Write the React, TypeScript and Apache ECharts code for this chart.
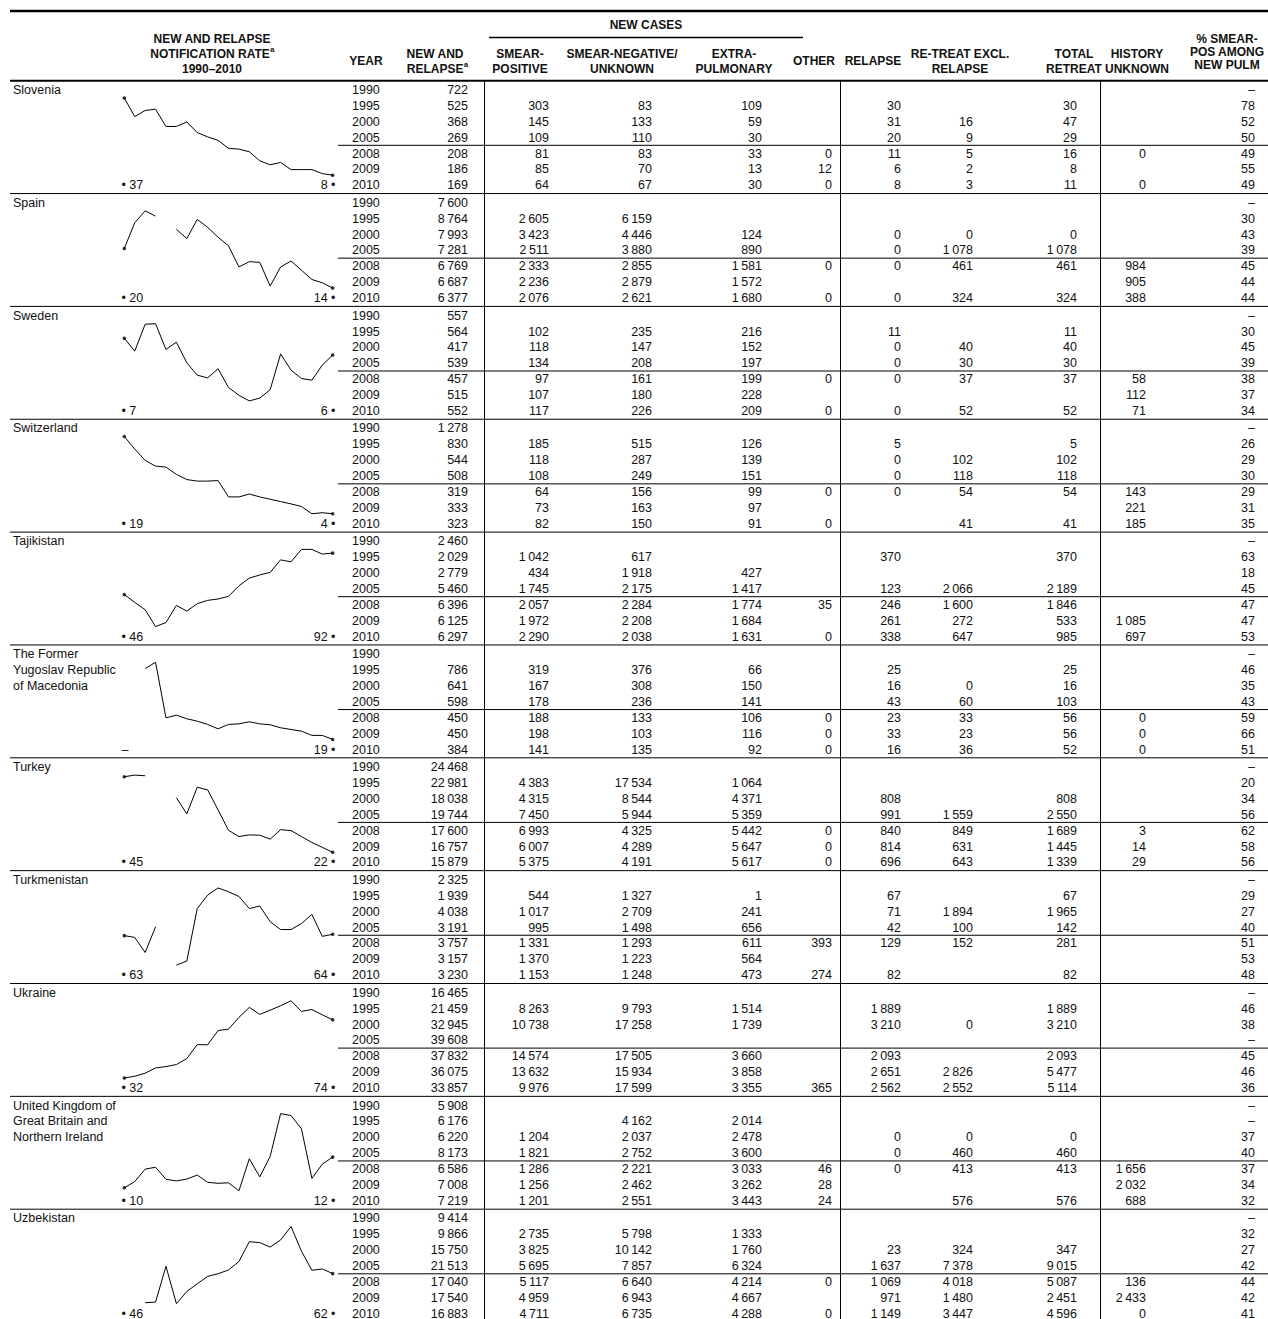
import React, { useEffect, useRef } from "react";
import * as echarts from "echarts";

// ---------------- DATA ----------------
const countryNames: string[][] = [
  ["Slovenia"],
  ["Spain"],
  ["Sweden"],
  ["Switzerland"],
  ["Tajikistan"],
  ["The Former", "Yugoslav Republic", "of Macedonia"],
  ["Turkey"],
  ["Turkmenistan"],
  ["Ukraine"],
  ["United Kingdom of", "Great Britain and", "Northern Ireland"],
  ["Uzbekistan"],
];

const rowYears = ["1990", "1995", "2000", "2005", "2008", "2009", "2010"];

const sparkYears = [
  "1990", "1991", "1992", "1993", "1994", "1995", "1996", "1997", "1998", "1999", "2000",
  "2001", "2002", "2003", "2004", "2005", "2006", "2007", "2008", "2009", "2010",
];

// notification rate per 100 000, 1990–2010 (null = not reported)
const sloveniaRate = [37, 30, 32.3, 32.8, 26.3, 26.3, 28, 24, 22.4, 21.1, 18.1, 17.8, 16.8, 13.4, 11.9, 12.8, 10.1, 10.1, 10.1, 8.6, 8];
const spainRate = [20, 23.9, 25.7, 24.9, null, 22.9, 21.5, 24.4, 23.2, 21.7, 20.4, 17.2, 18.0, 17.9, 14.3, 17.2, 18.1, 16.7, 15.3, 14.8, 14];
const swedenRate = [6.5, 6.04, 7.0, 7.02, 6.1, 6.36, 5.62, 5.18, 5.08, 5.41, 4.74, 4.46, 4.26, 4.36, 4.66, 5.94, 5.36, 5.06, 5.0, 5.54, 5.9];
const switzerlandRate = [19, 16.6, 14.4, 13.3, 13.1, 11.7, 10.7, 10.4, 10.4, 10.5, 7.35, 7.35, 7.9, 7.35, 6.9, 6.45, 6.0, 5.5, 4.1, 4.3, 4.1];
const tajikistanRate = [46, 37.4, 29.2, 10.5, 15.0, 34.0, 27.7, 35.9, 39.6, 41.1, 44.1, 55.7, 64.3, 67.7, 70.7, 84.5, 82.3, 96.1, 96.1, 90.9, 92];
const macedoniaRate = [null, null, 80.3, 85.8, 37.7, 40.0, 36.9, 34.8, 32.0, 28.2, 32.0, 32.5, 34.3, 32.5, 31.7, 29.1, 27.6, 26.2, 22.5, 22.5, 19];
const turkeyRate = [45, 45.5, 45.3, null, null, 38.6, 33.7, 41.8, 41.0, 34.9, 28.7, 26.8, 27.3, 27.2, 26.0, 28.9, 28.6, 26.8, 25.0, 23.5, 22];
const turkmenistanRate = [63.2, 62.2, 53.3, 68.4, null, 45.9, 48.3, 79.1, 87.0, 91.2, 89.0, 86.2, 79.1, 80.6, 71.4, 66.8, 66.8, 70.3, 75.7, 62.8, 64.0];
const ukraineRate = [31.7, 33.0, 35.2, 39.0, 40.0, 41.5, 45.8, 56.0, 55.8, 66.2, 67.2, 75.7, 83.0, 77.9, 81.0, 84.2, 87.8, 80.1, 81.5, 77.6, 74];
const ukRate = [10.3, 10.56, 11.09, 11.17, 10.66, 10.59, 10.67, 10.84, 10.53, 10.49, 10.51, 10.17, 11.53, 10.76, 11.63, 13.44, 13.36, 12.8, 10.7, 11.3, 11.6];
const uzbekistanRate = [null, null, 43.9, 44.3, 66.0, 43.3, 50.7, 55.4, 59.9, 61.5, 63.8, 68.9, 81.0, 80.4, 77.7, 82.0, 90.2, 75.2, 63.6, 64.4, 61.6];

const firstLabels = ["37", "20", "7", "19", "46", "–", "45", "63", "32", "10", "46"];
const lastLabels = ["8", "14", "6", "4", "92", "19", "22", "64", "74", "12", "62"];

// columns: new&relapse, smear+, smear-/unk, extrapulm, other, relapse, re-treat excl. relapse, total retreat, history unknown, % smear+
type Cell = number | string | null;
const sloveniaTable: Cell[][] = [
  [722, null, null, null, null, null, null, null, null, "–"],
  [525, 303, 83, 109, null, 30, null, 30, null, 78],
  [368, 145, 133, 59, null, 31, 16, 47, null, 52],
  [269, 109, 110, 30, null, 20, 9, 29, null, 50],
  [208, 81, 83, 33, 0, 11, 5, 16, 0, 49],
  [186, 85, 70, 13, 12, 6, 2, 8, null, 55],
  [169, 64, 67, 30, 0, 8, 3, 11, 0, 49],
];
const spainTable: Cell[][] = [
  [7600, null, null, null, null, null, null, null, null, "–"],
  [8764, 2605, 6159, null, null, null, null, null, null, 30],
  [7993, 3423, 4446, 124, null, 0, 0, 0, null, 43],
  [7281, 2511, 3880, 890, null, 0, 1078, 1078, null, 39],
  [6769, 2333, 2855, 1581, 0, 0, 461, 461, 984, 45],
  [6687, 2236, 2879, 1572, null, null, null, null, 905, 44],
  [6377, 2076, 2621, 1680, 0, 0, 324, 324, 388, 44],
];
const swedenTable: Cell[][] = [
  [557, null, null, null, null, null, null, null, null, "–"],
  [564, 102, 235, 216, null, 11, null, 11, null, 30],
  [417, 118, 147, 152, null, 0, 40, 40, null, 45],
  [539, 134, 208, 197, null, 0, 30, 30, null, 39],
  [457, 97, 161, 199, 0, 0, 37, 37, 58, 38],
  [515, 107, 180, 228, null, null, null, null, 112, 37],
  [552, 117, 226, 209, 0, 0, 52, 52, 71, 34],
];
const switzerlandTable: Cell[][] = [
  [1278, null, null, null, null, null, null, null, null, "–"],
  [830, 185, 515, 126, null, 5, null, 5, null, 26],
  [544, 118, 287, 139, null, 0, 102, 102, null, 29],
  [508, 108, 249, 151, null, 0, 118, 118, null, 30],
  [319, 64, 156, 99, 0, 0, 54, 54, 143, 29],
  [333, 73, 163, 97, null, null, null, null, 221, 31],
  [323, 82, 150, 91, 0, null, 41, 41, 185, 35],
];
const tajikistanTable: Cell[][] = [
  [2460, null, null, null, null, null, null, null, null, "–"],
  [2029, 1042, 617, null, null, 370, null, 370, null, 63],
  [2779, 434, 1918, 427, null, null, null, null, null, 18],
  [5460, 1745, 2175, 1417, null, 123, 2066, 2189, null, 45],
  [6396, 2057, 2284, 1774, 35, 246, 1600, 1846, null, 47],
  [6125, 1972, 2208, 1684, null, 261, 272, 533, 1085, 47],
  [6297, 2290, 2038, 1631, 0, 338, 647, 985, 697, 53],
];
const macedoniaTable: Cell[][] = [
  [null, null, null, null, null, null, null, null, null, "–"],
  [786, 319, 376, 66, null, 25, null, 25, null, 46],
  [641, 167, 308, 150, null, 16, 0, 16, null, 35],
  [598, 178, 236, 141, null, 43, 60, 103, null, 43],
  [450, 188, 133, 106, 0, 23, 33, 56, 0, 59],
  [450, 198, 103, 116, 0, 33, 23, 56, 0, 66],
  [384, 141, 135, 92, 0, 16, 36, 52, 0, 51],
];
const turkeyTable: Cell[][] = [
  [24468, null, null, null, null, null, null, null, null, "–"],
  [22981, 4383, 17534, 1064, null, null, null, null, null, 20],
  [18038, 4315, 8544, 4371, null, 808, null, 808, null, 34],
  [19744, 7450, 5944, 5359, null, 991, 1559, 2550, null, 56],
  [17600, 6993, 4325, 5442, 0, 840, 849, 1689, 3, 62],
  [16757, 6007, 4289, 5647, 0, 814, 631, 1445, 14, 58],
  [15879, 5375, 4191, 5617, 0, 696, 643, 1339, 29, 56],
];
const turkmenistanTable: Cell[][] = [
  [2325, null, null, null, null, null, null, null, null, "–"],
  [1939, 544, 1327, 1, null, 67, null, 67, null, 29],
  [4038, 1017, 2709, 241, null, 71, 1894, 1965, null, 27],
  [3191, 995, 1498, 656, null, 42, 100, 142, null, 40],
  [3757, 1331, 1293, 611, 393, 129, 152, 281, null, 51],
  [3157, 1370, 1223, 564, null, null, null, null, null, 53],
  [3230, 1153, 1248, 473, 274, 82, null, 82, null, 48],
];
const ukraineTable: Cell[][] = [
  [16465, null, null, null, null, null, null, null, null, "–"],
  [21459, 8263, 9793, 1514, null, 1889, null, 1889, null, 46],
  [32945, 10738, 17258, 1739, null, 3210, 0, 3210, null, 38],
  [39608, null, null, null, null, null, null, null, null, "–"],
  [37832, 14574, 17505, 3660, null, 2093, null, 2093, null, 45],
  [36075, 13632, 15934, 3858, null, 2651, 2826, 5477, null, 46],
  [33857, 9976, 17599, 3355, 365, 2562, 2552, 5114, null, 36],
];
const ukTable: Cell[][] = [
  [5908, null, null, null, null, null, null, null, null, "–"],
  [6176, null, 4162, 2014, null, null, null, null, null, "–"],
  [6220, 1204, 2037, 2478, null, 0, 0, 0, null, 37],
  [8173, 1821, 2752, 3600, null, 0, 460, 460, null, 40],
  [6586, 1286, 2221, 3033, 46, 0, 413, 413, 1656, 37],
  [7008, 1256, 2462, 3262, 28, null, null, null, 2032, 34],
  [7219, 1201, 2551, 3443, 24, null, 576, 576, 688, 32],
];
const uzbekistanTable: Cell[][] = [
  [9414, null, null, null, null, null, null, null, null, "–"],
  [9866, 2735, 5798, 1333, null, null, null, null, null, 32],
  [15750, 3825, 10142, 1760, null, 23, 324, 347, null, 27],
  [21513, 5695, 7857, 6324, null, 1637, 7378, 9015, null, 42],
  [17040, 5117, 6640, 4214, 0, 1069, 4018, 5087, 136, 44],
  [17540, 4959, 6943, 4667, null, 971, 1480, 2451, 2433, 42],
  [16883, 4711, 6735, 4288, 0, 1149, 3447, 4596, 0, 41],
];

const rates = [sloveniaRate, spainRate, swedenRate, switzerlandRate, tajikistanRate, macedoniaRate, turkeyRate, turkmenistanRate, ukraineRate, ukRate, uzbekistanRate];
const tables = [sloveniaTable, spainTable, swedenTable, switzerlandTable, tajikistanTable, macedoniaTable, turkeyTable, turkmenistanTable, ukraineTable, ukTable, uzbekistanTable];

// ---------------- LAYOUT ----------------
const W = 1268;
const H = 1319;
const FAM = '"Liberation Sans", Arial, Helvetica, sans-serif';
const BODY = `12.5px ${FAM}`;
const HEAD = `bold 12px ${FAM}`;
const SUP = `bold 7.5px ${FAM}`;
const INK = "#111";
const TABLE_TOP = 80.7;
const BLOCK_H = 112.85;
const ROW0 = 9.2;
const ROW_H = 15.9;
const COL_RIGHT = [468, 549, 652, 762, 832, 901, 973, 1077, 1146, 1255];
const SPARK_LEFT = 124.3;
const SPARK_W = 208.4;
const SPARK_TOP = 17.3;
const SPARK_H = 77.2;

function fmt(v: Cell): string {
  if (v === null || v === undefined) return "";
  if (typeof v === "string") return v;
  const s = String(v);
  if (v >= 1000) return s.slice(0, s.length - 3) + "\u2009" + s.slice(s.length - 3);
  return s;
}

let measureCtx: CanvasRenderingContext2D | null = null;
function textWidth(t: string, font: string): number {
  if (!measureCtx) measureCtx = document.createElement("canvas").getContext("2d");
  if (!measureCtx) return t.length * 7;
  measureCtx.font = font;
  return measureCtx.measureText(t).width;
}

function txt(text: string, x: number, y: number, font: string, align: string = "left"): any {
  return {
    type: "text",
    silent: true,
    style: { text, x, y, font, fill: INK, textAlign: align, textVerticalAlign: "middle" },
  };
}

function ln(x1: number, y1: number, x2: number, y2: number, w: number = 1): any {
  return {
    type: "line",
    silent: true,
    shape: { x1, y1, x2, y2 },
    style: { stroke: "#000", lineWidth: w },
  };
}

function buildOption(): any {
  const g: any[] = [];

  // header rules
  g.push(ln(10, 11, W, 11, 2.5));
  g.push(ln(10, TABLE_TOP, W, TABLE_TOP, 2));
  g.push(ln(489, 37.5, 803, 37.5, 1.5));

  // header texts
  const L1 = 53.5;
  const L2 = 68.5;
  const LS = 61;
  g.push(txt("NEW CASES", 646, 25, HEAD, "center"));
  g.push(txt("NEW AND RELAPSE", 212, 38.5, HEAD, "center"));
  const nr = "NOTIFICATION RATE";
  g.push(txt(nr, 210, L1, HEAD, "center"));
  g.push(txt("a", 210 + textWidth(nr, HEAD) / 2 + 0.5, L1 - 4, SUP, "left"));
  g.push(txt("1990–2010", 212, L2, HEAD, "center"));
  g.push(txt("YEAR", 366, LS, HEAD, "center"));
  g.push(txt("NEW AND", 463.5, L1, HEAD, "right"));
  g.push(txt("RELAPSE", 463.5, L2, HEAD, "right"));
  g.push(txt("a", 464, L2 - 4, SUP, "left"));
  g.push(txt("SMEAR-", 520, L1, HEAD, "center"));
  g.push(txt("POSITIVE", 520, L2, HEAD, "center"));
  g.push(txt("SMEAR-NEGATIVE/", 622, L1, HEAD, "center"));
  g.push(txt("UNKNOWN", 622, L2, HEAD, "center"));
  g.push(txt("EXTRA-", 734, L1, HEAD, "center"));
  g.push(txt("PULMONARY", 734, L2, HEAD, "center"));
  g.push(txt("OTHER", 814, LS, HEAD, "center"));
  g.push(txt("RELAPSE", 873, LS, HEAD, "center"));
  g.push(txt("RE-TREAT EXCL.", 960, L1, HEAD, "center"));
  g.push(txt("RELAPSE", 960, L2, HEAD, "center"));
  g.push(txt("TOTAL", 1074, L1, HEAD, "center"));
  g.push(txt("RETREAT", 1074, L2, HEAD, "center"));
  g.push(txt("HISTORY", 1137, L1, HEAD, "center"));
  g.push(txt("UNKNOWN", 1137, L2, HEAD, "center"));
  g.push(txt("% SMEAR-", 1227, 39, HEAD, "center"));
  g.push(txt("POS AMONG", 1227, 52, HEAD, "center"));
  g.push(txt("NEW PULM", 1227, 65, HEAD, "center"));

  const grids: any[] = [];
  const xAxes: any[] = [];
  const yAxes: any[] = [];
  const series: any[] = [];

  countryNames.forEach((name, b) => {
    const top = TABLE_TOP + b * BLOCK_H;
    const rowY = (k: number) => top + ROW0 + ROW_H * k;

    // rules
    if (b > 0) g.push(ln(10, top, W, top, 1));
    g.push(ln(338, top + 64.6, W, top + 64.6, 1));
    [484.5, 840.5, 1100.5].forEach((x) => g.push(ln(x, top, x, top + BLOCK_H, 1)));

    // country name
    name.forEach((line, k) => g.push(txt(line, 13, rowY(k), BODY, "left")));

    // end labels of the sparkline
    const fl = firstLabels[b];
    g.push(txt(fl === "–" ? fl : "• " + fl, 121.5, rowY(6), BODY, "left"));
    g.push(txt(lastLabels[b] + " •", 335.5, rowY(6), BODY, "right"));

    // table rows
    tables[b].forEach((row, k) => {
      g.push(txt(rowYears[k], 352, rowY(k), BODY, "left"));
      row.forEach((cell, c) => {
        const s = fmt(cell);
        if (s) g.push(txt(s, COL_RIGHT[c], rowY(k), BODY, "right"));
      });
    });

    // sparkline
    grids.push({ left: SPARK_LEFT, top: top + SPARK_TOP, width: SPARK_W, height: SPARK_H, containLabel: false });
    xAxes.push({ type: "category", gridIndex: b, data: sparkYears, boundaryGap: false, show: false });
    yAxes.push({
      type: "value",
      gridIndex: b,
      show: false,
      scale: true,
      min: (v: any) => v.min,
      max: (v: any) => v.max,
    });
    const r = rates[b];
    series.push({
      type: "line",
      xAxisIndex: b,
      yAxisIndex: b,
      data: r,
      showSymbol: false,
      symbol: "none",
      connectNulls: false,
      clip: false,
      silent: true,
      lineStyle: { color: "#000", width: 1 },
    });
    const ends: any[] = [];
    const last = sparkYears.length - 1;
    if (r[0] !== null) ends.push([sparkYears[0], r[0]]);
    if (r[last] !== null) ends.push([sparkYears[last], r[last]]);
    series.push({
      type: "scatter",
      xAxisIndex: b,
      yAxisIndex: b,
      data: ends,
      symbolSize: 3.6,
      clip: false,
      silent: true,
      itemStyle: { color: "#000" },
    });
  });

  return {
    animation: false,
    backgroundColor: "#fff",
    grid: grids,
    xAxis: xAxes,
    yAxis: yAxes,
    series,
    graphic: { elements: g },
  };
}

export default function App() {
  const ref = useRef<HTMLDivElement>(null);
  useEffect(() => {
    if (!ref.current) return;
    const chart = echarts.init(ref.current, undefined, { renderer: "svg" });
    chart.setOption(buildOption());
    return () => chart.dispose();
  }, []);
  return (
    <div
      ref={ref}
      style={{ position: "absolute", left: 0, top: 0, width: W, height: H, background: "#fff" }}
    />
  );
}
